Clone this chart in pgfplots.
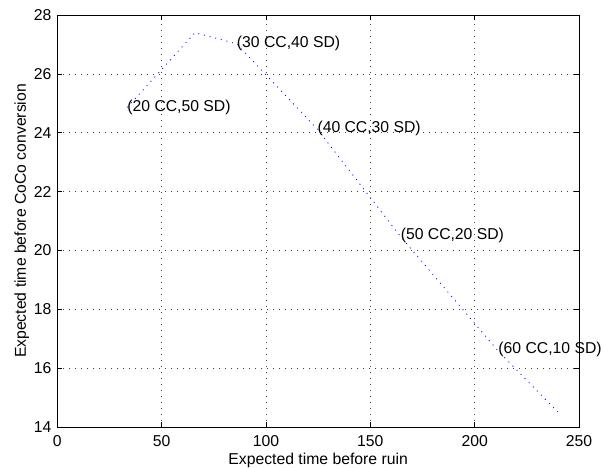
\documentclass[border=0pt]{standalone}
\usepackage{pgfplots}
\pgfplotsset{compat=1.18}
\usepackage{fontspec}
\setmainfont{Liberation Sans}
\begin{document}
\begin{tikzpicture}
\begin{axis}[
  scale only axis,
  width=521.7bp, height=412bp,
  xmin=0, xmax=250, ymin=14, ymax=28,
  xtick={0,50,...,250}, ytick={14,16,...,28},
  tick align=inside,
  major tick length=5bp,
  axis line style={line width=0.8bp},
  every tick/.style={black, line width=0.6bp},
  grid=major,
  major grid style={black!75, line width=0.6bp, dash pattern=on 0.8bp off 5.2bp},
  font=\fontsize{15.8}{19}\selectfont,
  /pgf/number format/assume math mode=true,
  tick label style={font=\fontsize{15.8}{19}\selectfont},
  xticklabel style={anchor=base, inner sep=0pt, yshift=-19.7bp},
  yticklabel style={anchor=east, inner sep=0pt, xshift=-5.6bp},
  xlabel={Expected time before ruin},
  ylabel={Expected time before CoCo conversion},
  xlabel style={at={(axis description cs:0.5,-0.0922)}, anchor=base, inner sep=0pt},
  ylabel style={at={(axis description cs:-0.060,0.5)}, anchor=base, inner sep=0pt},
  clip=false,
]
\addplot[blue, line width=0.8bp, dash pattern=on 1bp off 4.8bp] coordinates {
(33.5,24.86) (66.0,27.40) (86.0,27.02) (124.6,24.12) (164.5,20.47) (211.3,16.58) (239.8,14.51)
};
\node[anchor=west, inner sep=0] at (axis cs:33.5,24.86) {(20 CC,50 SD)};
\node[anchor=west, inner sep=0] at (axis cs:86.0,27.02) {(30 CC,40 SD)};
\node[anchor=west, inner sep=0] at (axis cs:124.6,24.15) {(40 CC,30 SD)};
\node[anchor=west, inner sep=0] at (axis cs:164.5,20.52) {(50 CC,20 SD)};
\node[anchor=west, inner sep=0] at (axis cs:211.3,16.64) {(60 CC,10 SD)};
\end{axis}
\pgfresetboundingbox
\path ([shift={(-57.3bp,-41bp)}]current axis.south west) rectangle ([shift={(24bp,15bp)}]current axis.north east);
\end{tikzpicture}
\end{document}
